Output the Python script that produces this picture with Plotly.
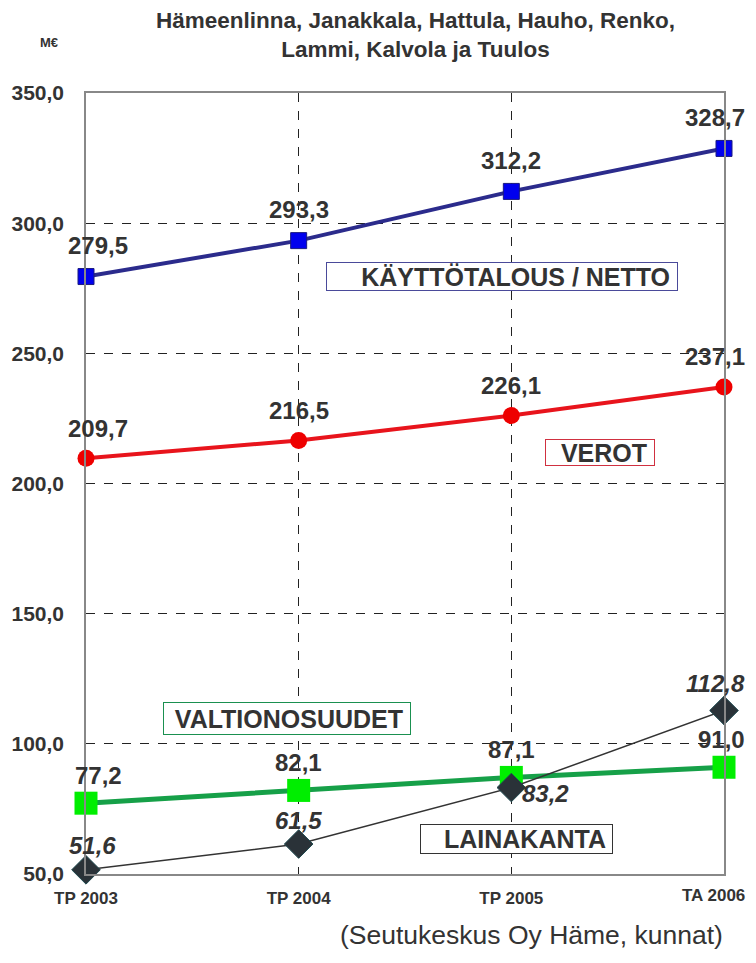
import plotly.graph_objects as go

# data (M€)
years = ["TP 2003", "TP 2004", "TP 2005", "TA 2006"]
kayttotalous = [279.5, 293.3, 312.2, 328.7]
verot = [209.7, 216.5, 226.1, 237.1]
valtionosuudet = [77.2, 82.1, 87.1, 91.0]
lainakanta = [51.6, 61.5, 83.2, 112.8]

def fmt(v):
    return ("%.1f" % v).replace(".", ",")

FONT = "Liberation Sans, Arial, sans-serif"
TXT = "#333333"

# the page body has an 8px margin, so the figure is drawn 16px smaller
W, H = 740, 947
L, R, T, B = 78, 24, 85, 81
PW, PH = W - L - R, H - T - B

def px(x_abs):
    return (x_abs - 8 - L) / PW

def py(y_abs):
    return (H - B - (y_abs - 8)) / PH

fig = go.Figure()

fig.add_trace(go.Scatter(
    x=years, y=kayttotalous, mode="lines+markers", cliponaxis=False,
    line=dict(color="#2b2b8c", width=4),
    marker=dict(symbol="square", size=16, color="#0000ee",
                line=dict(color="#1a1a80", width=1))))

fig.add_trace(go.Scatter(
    x=years, y=verot, mode="lines+markers", cliponaxis=False,
    line=dict(color="#e8141c", width=4),
    marker=dict(symbol="circle", size=17, color="#ee0000")))

fig.add_trace(go.Scatter(
    x=years, y=valtionosuudet, mode="lines+markers", cliponaxis=False,
    line=dict(color="#16a048", width=5),
    marker=dict(symbol="square", size=23, color="#00ee00")))

fig.add_trace(go.Scatter(
    x=years, y=lainakanta, mode="lines+markers", cliponaxis=False,
    line=dict(color="#333333", width=1.5),
    marker=dict(symbol="diamond", size=22, color="#2a3238",
                line=dict(color="#1f4a50", width=1))))

# value labels above the points
def value_labels(vals, lift):
    for i, (x, v) in enumerate(zip(years, vals)):
        kw = dict(xanchor="center", xshift=0, yshift=lift)
        if i == 0:
            kw["xshift"] = 12
        elif i == len(vals) - 1:
            kw.update(xanchor="right", xshift=R - 1)
        fig.add_annotation(
            x=x, y=v, text=fmt(v), showarrow=False, yanchor="middle",
            font=dict(family=FONT, size=24, color=TXT, weight="bold"), **kw)

value_labels(kayttotalous, 31)
value_labels(verot, 30)
value_labels(valtionosuudet, 28)

for i, (x, v) in enumerate(zip(years, lainakanta)):
    kw = dict(xanchor="center", xshift=0, yshift=24)
    if i == 0:
        kw["xshift"] = 6
    elif i == 2:
        kw.update(xanchor="left", xshift=9, yshift=-6)
    elif i == len(lainakanta) - 1:
        kw.update(xanchor="right", xshift=R - 1, yshift=27)
    fig.add_annotation(
        x=x, y=v, text=fmt(v), showarrow=False, yanchor="middle",
        font=dict(family=FONT, size=24, color=TXT, weight="bold", style="italic"), **kw)

# boxed series names: text, centre x/y (abs px), box width, height, border colour
boxes = [
    ("KÄYTTÖTALOUS / NETTO", 502, 276, 352, 29, "#4a4a9a"),
    ("VEROT", 600, 453, 110, 27, "#d03040"),
    ("VALTIONOSUUDET", 287, 718, 248, 33, "#1a9050"),
    ("LAINAKANTA", 516, 839, 193, 30, "#333333"),
]
for label, bx, by, w, h, col in boxes:
    fig.add_annotation(
        x=px(bx), y=py(by), xref="paper", yref="paper", text=label + " ",
        showarrow=False, xanchor="center", yanchor="middle",
        width=w - 2, height=h - 2, align="right",
        font=dict(family=FONT, size=25, color=TXT, weight="bold"),
        bordercolor=col, borderwidth=1, borderpad=0, bgcolor="white")

# last category label sits against the right edge of the picture
fig.add_annotation(
    x=years[-1], y=0, yref="paper", xanchor="right", yanchor="top",
    xshift=R - 1, yshift=-10, showarrow=False, text=years[-1],
    font=dict(family=FONT, size=17, color=TXT, weight="bold"))

fig.add_annotation(
    x=px(415), y=py(35), xref="paper", yref="paper", xanchor="center", yanchor="middle",
    text="Hämeenlinna, Janakkala, Hattula, Hauho, Renko,<br>Lammi, Kalvola ja Tuulos",
    showarrow=False, font=dict(family=FONT, size=22.5, color=TXT, weight="bold"))
fig.add_annotation(
    x=px(38), y=py(43), xref="paper", yref="paper", xanchor="left", yanchor="middle",
    showarrow=False, text="M€",
    font=dict(family=FONT, size=13, color=TXT, weight="bold"))
fig.add_annotation(
    x=px(531), y=py(935), xref="paper", yref="paper", xanchor="center", yanchor="middle",
    showarrow=False, text="(Seutukeskus Oy Häme, kunnat)",
    font=dict(family=FONT, size=26.5, color=TXT))

fig.update_layout(
    width=W, height=H,
    margin=dict(l=L, r=R, t=T, b=B, autoexpand=False),
    paper_bgcolor="white", plot_bgcolor="white",
    showlegend=False, separators=", ",
    font=dict(family=FONT, color=TXT))

fig.update_xaxes(
    type="category", range=[0, 3], showgrid=True,
    gridcolor="#222222", griddash="dash", gridwidth=1,
    showline=True, linecolor="#888888", linewidth=1.5, mirror=True,
    ticks="", ticklabelstandoff=8,
    tickvals=years, ticktext=years[:-1] + [""],
    tickfont=dict(family=FONT, size=17, color=TXT, weight="bold"))
fig.update_yaxes(
    range=[50, 350], dtick=50, tickformat=".1f", showgrid=True,
    gridcolor="#222222", griddash="dash", gridwidth=1,
    showline=True, linecolor="#888888", linewidth=1.5, mirror=True,
    zeroline=False, ticks="", ticklabelstandoff=16,
    tickfont=dict(family=FONT, size=21, color=TXT, weight="bold"))

fig.write_html("out.html")
